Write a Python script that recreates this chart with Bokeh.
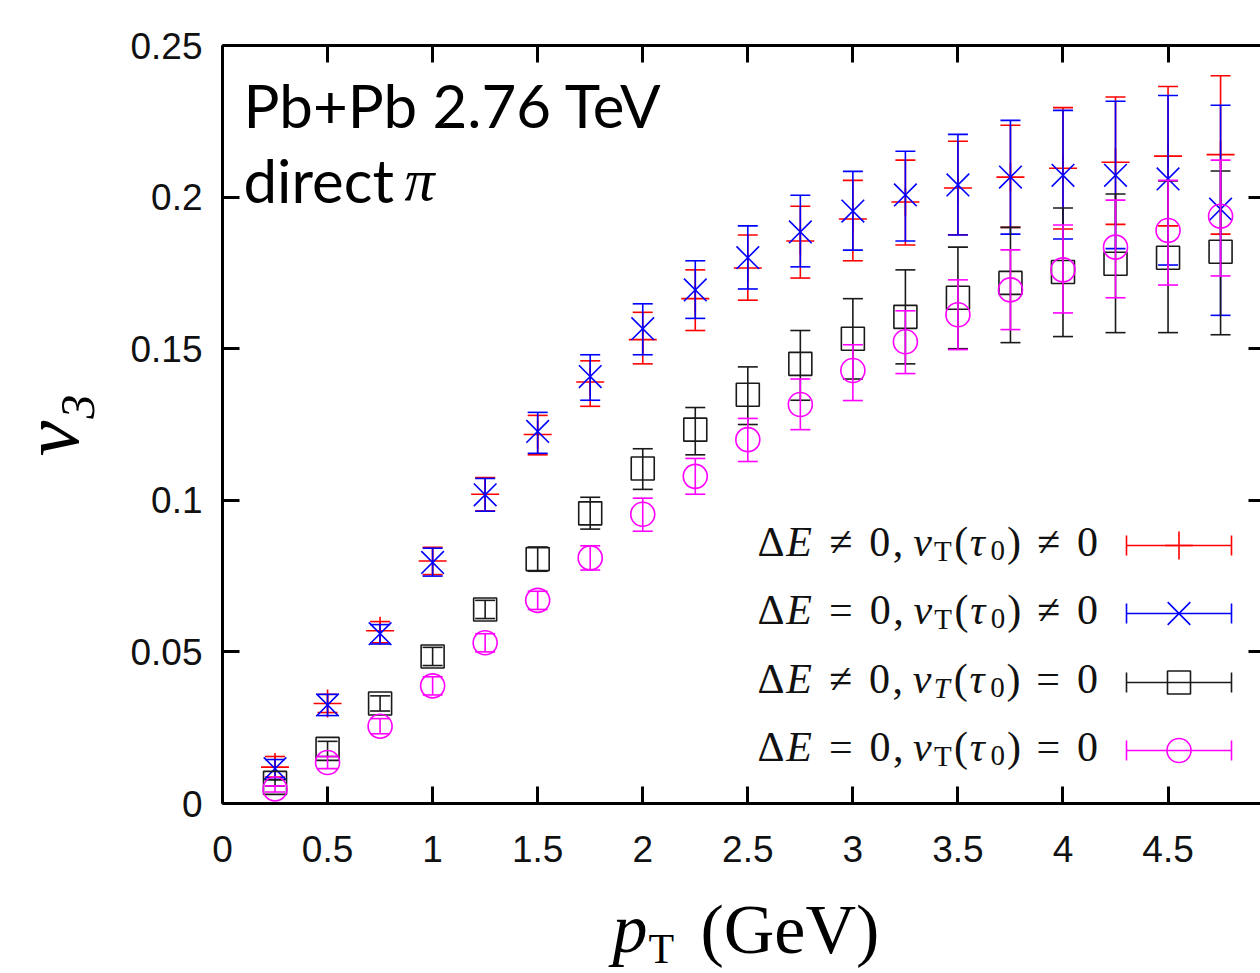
import math
from bokeh.plotting import figure
from bokeh.models import Range1d, FixedTicker, LinearAxis, Label, ColumnDataSource
from bokeh.core.properties import value
from bokeh.layouts import column
from bokeh.embed import file_html
from bokeh.resources import INLINE

# ---------------- data ----------------
pt = [0.25, 0.5, 0.75, 1.0, 1.25, 1.5, 1.75, 2.0, 2.25, 2.5,
      2.75, 3.0, 3.25, 3.5, 3.75, 4.0, 4.25, 4.5, 4.75]

# dE != 0, vT(tau0) != 0  (red)
red_v  = [0.012, 0.033, 0.057, 0.080, 0.102, 0.1217, 0.139, 0.153, 0.1665, 0.1766,
          0.1855, 0.1928, 0.1984, 0.203, 0.2066, 0.2095, 0.2115, 0.2135, 0.214]
red_lo = [0.0087, 0.030, 0.053, 0.0755, 0.0965, 0.115, 0.131, 0.145, 0.156, 0.166,
          0.1733, 0.179, 0.1842, 0.1876, 0.190, 0.1895, 0.191, 0.1905, 0.1878]
red_hi = [0.0155, 0.036, 0.060, 0.0845, 0.1075, 0.128, 0.146, 0.162, 0.176, 0.1875,
          0.197, 0.2055, 0.2122, 0.2184, 0.2237, 0.2295, 0.233, 0.2365, 0.240]

# dE = 0, vT(tau0) != 0  (blue)
blue_v  = [0.0115, 0.0325, 0.056, 0.0795, 0.1018, 0.1227, 0.1408, 0.1566, 0.1694, 0.180,
           0.1885, 0.1954, 0.2007, 0.204, 0.2066, 0.2072, 0.2072, 0.206, 0.196]
blue_lo = [0.0085, 0.029, 0.0526, 0.075, 0.0964, 0.1155, 0.133, 0.148, 0.160, 0.1697,
           0.177, 0.1825, 0.1855, 0.1875, 0.1878, 0.1862, 0.183, 0.1776, 0.161]
blue_hi = [0.0145, 0.036, 0.059, 0.0842, 0.1072, 0.129, 0.148, 0.1648, 0.179, 0.1905,
           0.2006, 0.2085, 0.2151, 0.2207, 0.2253, 0.2286, 0.2316, 0.2335, 0.2303]

# dE != 0, vT(tau0) = 0  (black)
black_v  = [0.0068, 0.018, 0.033, 0.0485, 0.064, 0.0806, 0.0957, 0.1105, 0.1233, 0.1348,
            0.145, 0.1533, 0.1605, 0.1668, 0.1717, 0.1753, 0.178, 0.180, 0.182]
black_lo = [0.0058, 0.0155, 0.0305, 0.0455, 0.061, 0.0766, 0.0905, 0.1036, 0.115, 0.125,
            0.133, 0.140, 0.145, 0.150, 0.152, 0.154, 0.1553, 0.1553, 0.1546]
black_hi = [0.0078, 0.0205, 0.0355, 0.0515, 0.067, 0.0846, 0.101, 0.117, 0.1306, 0.144,
            0.156, 0.1665, 0.176, 0.1835, 0.190, 0.1964, 0.201, 0.2053, 0.2086]

# dE = 0, vT(tau0) = 0  (magenta)
mag_v  = [0.0048, 0.0135, 0.0255, 0.0388, 0.053, 0.067, 0.081, 0.0954, 0.1079, 0.120,
          0.1316, 0.1428, 0.1523, 0.1612, 0.1694, 0.176, 0.1835, 0.189, 0.1937]
mag_lo = [0.0038, 0.0115, 0.023, 0.0358, 0.050, 0.064, 0.077, 0.0898, 0.102, 0.1128,
          0.1233, 0.1329, 0.1418, 0.1497, 0.1563, 0.1618, 0.1668, 0.171, 0.174]
mag_hi = [0.0058, 0.0155, 0.028, 0.0418, 0.056, 0.070, 0.085, 0.1007, 0.1138, 0.127,
          0.140, 0.1513, 0.1625, 0.1727, 0.1826, 0.1908, 0.199, 0.2055, 0.2122]

x_ticks = [0.0, 0.5, 1.0, 1.5, 2.0, 2.5, 3.0, 3.5, 4.0, 4.5]
x_tick_labels = ["0", "0.5", "1", "1.5", "2", "2.5", "3", "3.5", "4", "4.5"]
y_ticks = [0.0, 0.05, 0.1, 0.15, 0.2, 0.25]
y_tick_labels = ["0", "0.05", "0.1", "0.15", "0.2", "0.25"]

# legend label pieces: (text, italic?, subscript?)
legend_pieces = [
    [("Δ", 0, 0), ("E", 1, 0), " ", ("≠", 0, 0), " ", ("0", 0, 0), (",", 0, 0), "t",
     ("v", 1, 0), ("T", 0, 1), ("(", 0, 0), ("τ", 1, 0), ("0", 0, 1), (")", 0, 0), " ", ("≠", 0, 0), " ", ("0", 0, 0)],
    [("Δ", 0, 0), ("E", 1, 0), " ", ("=", 0, 0), " ", ("0", 0, 0), (",", 0, 0), "t",
     ("v", 1, 0), ("T", 0, 1), ("(", 0, 0), ("τ", 1, 0), ("0", 0, 1), (")", 0, 0), " ", ("≠", 0, 0), " ", ("0", 0, 0)],
    [("Δ", 0, 0), ("E", 1, 0), " ", ("≠", 0, 0), " ", ("0", 0, 0), (",", 0, 0), "t",
     ("v", 1, 0), ("T", 1, 1), ("(", 0, 0), ("τ", 1, 0), ("0", 0, 1), (")", 0, 0), " ", ("=", 0, 0), " ", ("0", 0, 0)],
    [("Δ", 0, 0), ("E", 1, 0), " ", ("=", 0, 0), " ", ("0", 0, 0), (",", 0, 0), "t",
     ("v", 1, 0), ("T", 0, 1), ("(", 0, 0), ("τ", 1, 0), ("0", 0, 1), (")", 0, 0), " ", ("=", 0, 0), " ", ("0", 0, 0)],
]

series = [
    dict(v=red_v, lo=red_lo, hi=red_hi, color="#ff0000", marker="cross", ms=28),
    dict(v=blue_v, lo=blue_lo, hi=blue_hi, color="#0000ff", marker="x", ms=32),
    dict(v=black_v, lo=black_lo, hi=black_hi, color="#1a1a1a", marker="square", ms=23),
    dict(v=mag_v, lo=mag_lo, hi=mag_hi, color="#ff00ff", marker="circle", ms=24),
]

# ---------------- layout ----------------
W, H = 1260, 973
PH = 885                      # main figure height; below it a strip for the x title
FL, FR, FT, FB = 222, 1260, 45, 803
X0, X1 = 0.0, 4.94
Y0, Y1 = 0.0, 0.25
BASE_FIX = 0.37               # label baseline correction (fraction of font size)


def dx(px):
    return X0 + (px - FL) * (X1 - X0) / (FR - FL)


def dy(py):
    return Y0 + (FB - py) * (Y1 - Y0) / (FB - FT)


p = figure(width=W, height=PH, output_backend="svg", toolbar_location=None,
           x_range=Range1d(X0, X1), y_range=Range1d(Y0, Y1),
           min_border_left=FL, min_border_right=0, min_border_top=FT,
           min_border_bottom=PH - FB)
p.outline_line_color = None
p.grid.grid_line_color = None
p.background_fill_color = "white"
p.border_fill_color = "white"

TICK_FONT = "Liberation Sans"

xa = p.xaxis[0]
xa.ticker = FixedTicker(ticks=x_ticks)
xa.major_label_overrides = {t: l for t, l in zip(x_ticks, x_tick_labels)}
xa.major_tick_in = 17
xa.major_tick_out = 0
xa.minor_tick_line_color = None
xa.axis_line_width = 3
xa.major_tick_line_width = 3
xa.major_label_text_font = TICK_FONT
xa.major_label_text_font_size = "37px"
xa.major_label_text_color = "#111111"
xa.major_label_standoff = 32

ya = p.yaxis[0]
ya.ticker = FixedTicker(ticks=y_ticks)
ya.major_label_overrides = {t: l for t, l in zip(y_ticks, y_tick_labels)}
ya.major_tick_in = 17
ya.major_tick_out = 0
ya.minor_tick_line_color = None
ya.axis_line_width = 3
ya.major_tick_line_width = 3
ya.major_label_text_font = TICK_FONT
ya.major_label_text_font_size = "37px"
ya.major_label_text_color = "#111111"
ya.major_label_standoff = 20
ya.axis_label = "v₃"
ya.axis_label_text_font = "Liberation Serif"
ya.axis_label_text_font_style = "italic"
ya.axis_label_text_font_size = "80px"
ya.axis_label_text_color = "black"
ya.axis_label_standoff = 32

top = LinearAxis(ticker=FixedTicker(ticks=x_ticks), major_tick_in=17, major_tick_out=0,
                 minor_tick_line_color=None, axis_line_width=3, major_tick_line_width=3,
                 major_label_text_font_size="1px", major_label_text_color=None,
                 major_label_standoff=0)
p.add_layout(top, "above")
right = LinearAxis(ticker=FixedTicker(ticks=y_ticks), major_tick_in=12, major_tick_out=0,
                   minor_tick_line_color=None, axis_line_color=None, major_tick_line_width=3,
                   major_label_text_font_size="1px", major_label_text_color=None,
                   major_label_standoff=0)
p.add_layout(right, "right")

LW = 1.6
CAP = 20
for s in series:
    src = ColumnDataSource(dict(x=pt, v=s["v"], lo=s["lo"], hi=s["hi"]))
    p.segment(x0="x", y0="lo", x1="x", y1="hi", source=src, line_color=s["color"], line_width=LW)
    p.scatter(x="x", y="lo", marker="dash", size=CAP, source=src, line_color=s["color"], line_width=LW)
    p.scatter(x="x", y="hi", marker="dash", size=CAP, source=src, line_color=s["color"], line_width=LW)
    p.scatter(x="x", y="v", marker=s["marker"], size=s["ms"], source=src, line_color=s["color"],
              fill_color=None, line_width=LW)

# ---------------- legend (text left, sample right) ----------------
LEG_ROWS_PX = [545, 613, 682, 750]
LEG_TXT_X0, LEG_TXT_X1 = 757, 1100
LEG_S0, LEG_S1 = 1126, 1231
LEG_FONT = "Liberation Serif"
LEG_FS = 42
GW = 1.12
WID = {"Δ": .612, "E": .611, "≠": .549, "=": .564, "0": .5, ",": .25, "v": .444,
       "T": .611, "(": .333, ")": .333, "τ": .44}

for row, s, rpx in zip(legend_pieces, series, LEG_ROWS_PX):
    ys = dy(rpx)
    src = ColumnDataSource(dict(x0=[dx(LEG_S0)], x1=[dx(LEG_S1)], xm=[dx((LEG_S0 + LEG_S1) / 2)], y=[ys]))
    p.segment(x0="x0", y0="y", x1="x1", y1="y", source=src, line_color=s["color"], line_width=LW)
    p.scatter(x="x0", y="y", marker="dash", angle=math.pi / 2, size=CAP, source=src,
              line_color=s["color"], line_width=LW)
    p.scatter(x="x1", y="y", marker="dash", angle=math.pi / 2, size=CAP, source=src,
              line_color=s["color"], line_width=LW)
    p.scatter(x="xm", y="y", marker=s["marker"], size=s["ms"], source=src, line_color=s["color"],
              fill_color=None, line_width=LW)
    glyph_w = 0.0
    space_em = 0.0
    for it in row:
        if isinstance(it, str):
            space_em += 0.278 if it == " " else 0.167
        else:
            glyph_w += WID[it[0]] * (0.7 if it[2] else 1.0) * LEG_FS * GW
    per_em = (LEG_TXT_X1 - LEG_TXT_X0 - glyph_w) / space_em
    xpx = LEG_TXT_X0
    base = rpx + 12
    for it in row:
        if isinstance(it, str):
            xpx += (0.278 if it == " " else 0.167) * per_em
            continue
        t, ital, sub = it
        fs = LEG_FS * (0.7 if sub else 1.0)
        yb = base + (9 if sub else 0) - BASE_FIX * LEG_FS
        p.add_layout(Label(x=dx(xpx), y=dy(yb), text=t,
                           text_font=LEG_FONT, text_font_size=f"{fs:.0f}px",
                           text_font_style="italic" if ital else "normal",
                           text_color="#111111", text_baseline="alphabetic", text_align="left"))
        xpx += WID[t] * (0.7 if sub else 1.0) * LEG_FS * GW

# ---------------- annotations ----------------
TFS = 60
p.add_layout(Label(x=dx(243), y=dy(127 - BASE_FIX * TFS), text="Pb+Pb 2.76 TeV", text_font="Lato",
                   text_font_size=f"{TFS}px", text_color="black", text_baseline="alphabetic"))
p.add_layout(Label(x=dx(243), y=dy(202 - BASE_FIX * TFS), text="direct", text_font="Lato",
                   text_font_size=f"{TFS}px", text_color="black", text_baseline="alphabetic"))
p.add_layout(Label(x=dx(404), y=dy(202 - BASE_FIX * TFS), text="π", text_font="Liberation Serif",
                   text_font_style="italic", text_font_size=f"{TFS}px", text_color="black",
                   text_baseline="alphabetic"))

# ---------------- x title strip (frame aligned with the main plot) ----------------
SH = H - PH
xt = figure(width=W, height=SH, output_backend="svg", toolbar_location=None,
            x_range=Range1d(X0, X1), y_range=Range1d(SH, 0),
            min_border_left=FL, min_border_right=0,
            min_border_top=0, min_border_bottom=0)
xt.axis.visible = False
xt.grid.grid_line_color = None
xt.outline_line_color = None
xt.background_fill_color = "white"
xt.border_fill_color = "white"

XFS, XSFS = 70, 42
xtitle = ColumnDataSource(dict(
    x=[dx(612), dx(648), dx(700)],
    y=[954 - PH - BASE_FIX * XFS, 964 - PH - BASE_FIX * XSFS, 955 - PH - BASE_FIX * XFS],
    t=["p", "T", "(GeV)"],
    fs=[f"{XFS}px", f"{XSFS}px", f"{XFS}px"],
    st=["italic", "normal", "normal"],
))
xt.text(x="x", y="y", text="t", source=xtitle, text_font=value("Liberation Serif"),
        text_font_size="fs", text_font_style="st", text_color="black",
        text_baseline="alphabetic", text_align="left")

layout = column(p, xt, spacing=0)
open("out.html", "w").write(file_html(layout, INLINE))
